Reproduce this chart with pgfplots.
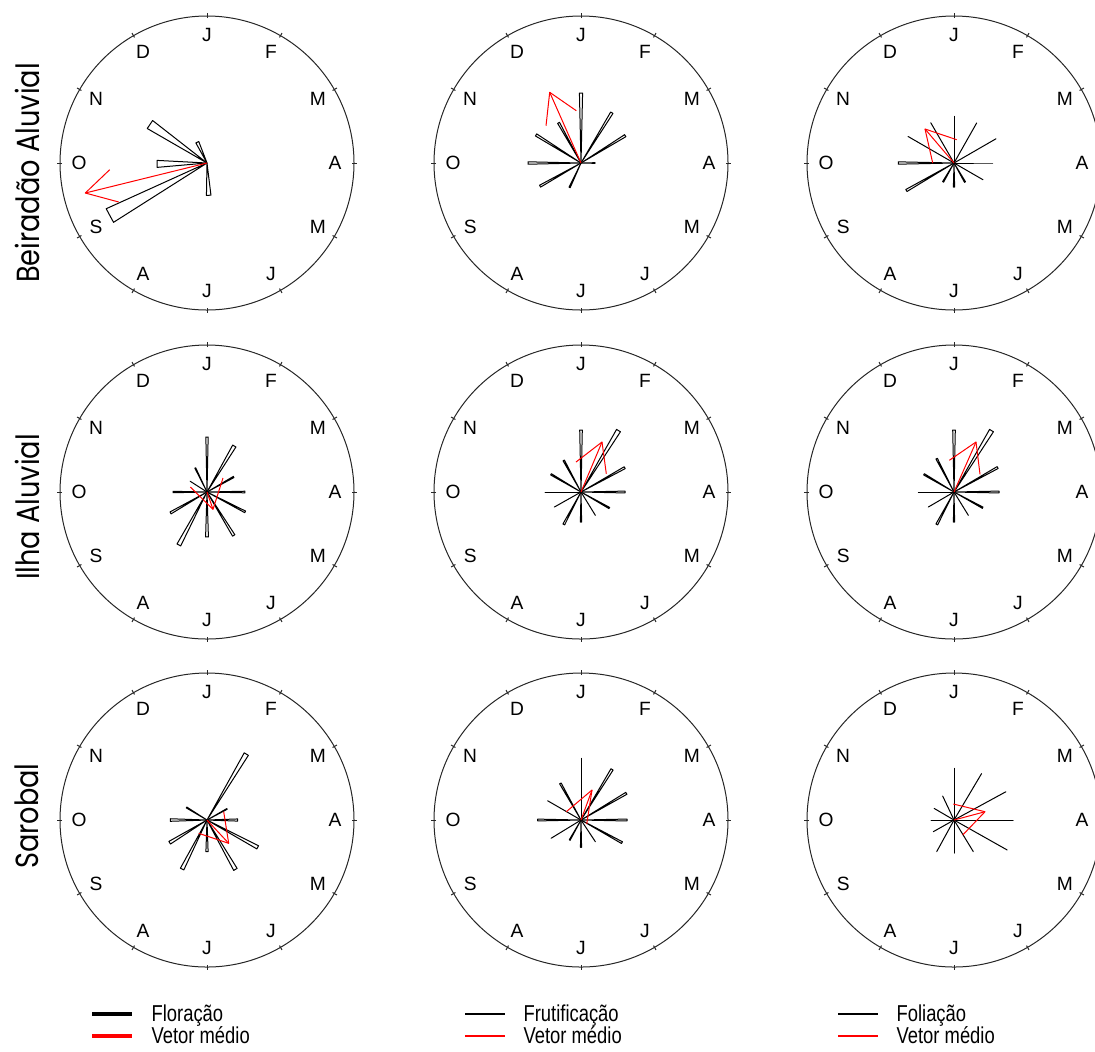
\documentclass[border=0pt]{standalone}
\usepackage{fontspec}
\setmainfont{Liberation Sans}
\newfontfamily\rowfont{Poppins}[FakeStretch=0.85]
\newfontfamily\legfont{Liberation Sans}[FakeStretch=0.8]
\usepackage{pgfplots}
\usepackage{pgfplotstable}
\pgfplotsset{compat=1.18}

% bars: a = month direction (degrees clockwise from top), r = length (px), w = half width (deg)
\pgfplotstableread{
a r w
304 69 4
335 23 4
269 50 4
241.6 110.7 4
177 32.4 4
}\tBAflor
\pgfplotstableread{
a r w
0 70 1.3
31.5 59 1.3
58.3 52 1.3
90 14 1.3
205 27 1.3
240.5 47 1.3
270 53 1.3
302 53 1.3
330.8 46 1.3
}\tBAfrut
\pgfplotstableread{
a r w
0 46.7 0
29.5 46 0
60 48.4 0
90 38.7 0
120 33.4 0
150 22 1.5
180 24 1.5
210 21.8 1.5
240 55 1.2
270 55.7 1.2
300 53 0
330 46.5 0
}\tBAfol
\pgfplotstableread{
a r w
0 55 1.2
30.7 53.5 2
60.6 30.6 1.2
90 38 1.2
117.5 43 1.2
148.4 51 1.5
180 45 1.8
208 60 2
240.2 42 1.5
270 34 1.2
302.6 20 0
334 26.7 1
}\tIAflor
\pgfplotstableread{
a r w
0 62 1.2
31.4 72 1.8
60.9 50 1.2
90 44 1.2
119.5 32.5 1.2
148.4 27.4 0
180 30 1.2
208 36.7 1.5
240.6 30.6 0
270 36 0
300.5 34.8 1.2
331.3 36 1.2
}\tIAfrut
\pgfplotstableread{
a r w
0 62 1.2
31.4 72 1.8
60.7 50 1.2
90 45 1.2
118.7 32.7 1.2
148.4 27.4 0
180 30 1.2
208 36.7 1.5
239.7 29.7 0
270 35.7 0
300.5 34.8 1.2
332.5 37.6 1.2
}\tIAfol
\pgfplotstableread{
a r w
30.8 76.8 1.8
61 22.8 1
90 30.7 2
118.3 57.6 1.8
150.1 57 2
180 31.7 2
206.9 55 2
238.7 43.7 2
270 36.7 2
301.5 24 1.2
}\tSflor
\pgfplotstableread{
a r w
0 61.7 0
31.5 59.4 1.2
59.5 52.6 1.2
90 46 1.2
118.9 46.8 1.2
146.5 26 0
180 27.3 1.2
209.5 23 1.2
238.6 35 0
270 43.3 1.2
300 38.5 0
330.6 42 1.2
}\tSfrut
\pgfplotstableread{
a r w
0 51.7 0
30.7 54 0
61.4 59 0
90 59 0
119.4 61 0
148.6 37 0
180 33 0
208.7 36 0
240.6 23.7 0
270 23 0
300.3 23 0
334.7 26.5 0
}\tSfol

\newcommand\roseBars[2]{%
  \pgfplotstablegetrowsof{#1}%
  \pgfmathtruncatemacro\nlast{\pgfplotsretval-1}%
  \pgfplotsforeachungrouped \rowidx in {0,...,\nlast}{%
    \pgfplotstablegetelem{\rowidx}{a}\of{#1}\let\A\pgfplotsretval
    \pgfplotstablegetelem{\rowidx}{r}\of{#1}\let\R\pgfplotsretval
    \pgfplotstablegetelem{\rowidx}{w}\of{#1}\let\W\pgfplotsretval
    \pgfmathsetmacro\xa{\R*sin(\A-\W)}%
    \pgfmathsetmacro\ya{\R*cos(\A-\W)}%
    \pgfmathsetmacro\xb{\R*sin(\A+\W)}%
    \pgfmathsetmacro\yb{\R*cos(\A+\W)}%
    \edef\temp{\noexpand\addplot[forget plot, draw=black, line width=#2, line join=round] coordinates {(0,0) (\xa,\ya) (\xb,\yb) (0,0)};}%
    \temp
  }%
}

\newcommand\monthframe{%
  \draw[black!85, line width=0.5pt] (axis cs:0,0) circle[radius=73.5pt];
  \pgfplotsinvokeforeach{0,30,...,330}{\draw[black!85, line width=0.5pt, shift={(axis cs:0,0)}] (##1:72.5pt) -- (##1:75pt);}
  \path[shift={(axis cs:0,0)}, every node/.style={font=\fontsize{9.6}{10}\selectfont, inner sep=0pt}]
    (90:64pt) node {J} (60:64pt) node {F} (30:64pt) node {M} (0:64pt) node {A}
    (-30:64pt) node {M} (-60:64pt) node {J} (-90:64pt) node {J} (-120:64pt) node {A}
    (-150:64pt) node {S} (180:64pt) node {O} (150:64pt) node {N} (120:64pt) node {D};
}

\pgfplotsset{
  rose/.style={hide axis, x=0.5pt, y=0.5pt, xmin=-147, xmax=147, ymin=-147, ymax=147,
    clip=false, anchor=center},
  arrowred/.style={forget plot, draw=red, line width=0.5pt, line join=round},
  rleg/.style={legend style={at={(axis cs:-117,-183)}, anchor=north west, draw=none, fill=none,
      inner sep=0pt, font=\legfont\fontsize{11.5}{11.5}\selectfont, row sep=-0.3pt,
      nodes={inner sep=0.6pt, anchor=west},
      /tikz/every odd column/.append style={column sep=8pt}},
    legend cell align=left,
    legend image code/.code={\draw[##1] (0pt,0pt) -- (20pt,0pt);}},
}

\begin{document}
\begin{tikzpicture}
\useasboundingbox (0,0) rectangle (547.5pt,-525.5pt);

% Row 1: Beiradao Aluvial
\begin{axis}[rose, at={(103.5pt,-81.5pt)}]
  \roseBars{\tBAflor}{0.5pt}
  \addplot[arrowred] coordinates {(0,0) (-121.7,-30)};
  \addplot[arrowred] coordinates {(-97.3,-6.7) (-121.7,-30) (-88.3,-39)};
  \monthframe
\end{axis}
\begin{axis}[rose, at={(290.5pt,-81.5pt)}]
  \roseBars{\tBAfrut}{0.5pt}
  \addplot[arrowred] coordinates {(0,0) (-31.3,70.7)};
  \addplot[arrowred] coordinates {(-4.7,52.3) (-31.3,70.7) (-35,37.3)};
  \monthframe
\end{axis}
\begin{axis}[rose, at={(477pt,-81.5pt)}]
  \roseBars{\tBAfol}{0.5pt}
  \addplot[arrowred] coordinates {(0,0) (-29,34)};
  \addplot[arrowred] coordinates {(2.7,23.3) (-29,34) (-21.3,0)};
  \monthframe
\end{axis}

% Row 2: Ilha Aluvial
\begin{axis}[rose, at={(103.5pt,-246pt)}]
  \roseBars{\tIAflor}{0.5pt}
  \addplot[arrowred] coordinates {(0,0) (6,-17.3)};
  \addplot[arrowred] coordinates {(-16.7,5) (6,-17.3) (16,14)};
  \monthframe
\end{axis}
\begin{axis}[rose, at={(290.5pt,-246pt)}]
  \roseBars{\tIAfrut}{0.5pt}
  \addplot[arrowred] coordinates {(0,0) (21,50)};
  \addplot[arrowred] coordinates {(-5,30) (21,50) (25.3,18.3)};
  \monthframe
\end{axis}
\begin{axis}[rose, at={(477pt,-246pt)}]
  \roseBars{\tIAfol}{0.5pt}
  \addplot[arrowred] coordinates {(0,0) (22,50)};
  \addplot[arrowred] coordinates {(-4.7,31.7) (22,50) (26,17.7)};
  \monthframe
\end{axis}

% Row 3: Sarobal
\begin{axis}[rose, rleg, at={(103.5pt,-410pt)}]
  \addlegendimage{black, line width=2pt}\addlegendentry{Floração}
  \addlegendimage{red, line width=2pt}\addlegendentry{Vetor médio}
  \roseBars{\tSflor}{0.5pt}
  \addplot[arrowred] coordinates {(0,0) (21.7,-23.3)};
  \addplot[arrowred] coordinates {(16.7,8.3) (21.7,-23.3) (-8.3,-13.3)};
  \monthframe
\end{axis}
\begin{axis}[rose, rleg, at={(290.5pt,-410pt)}]
  \addlegendimage{black, line width=1pt}\addlegendentry{Frutificação}
  \addlegendimage{red, line width=1pt}\addlegendentry{Vetor médio}
  \roseBars{\tSfrut}{0.5pt}
  \addplot[arrowred] coordinates {(0,0) (11,30)};
  \addplot[arrowred] coordinates {(-14.7,8.3) (11,30) (5.7,-4)};
  \monthframe
\end{axis}
\begin{axis}[rose, rleg, at={(477pt,-410pt)}]
  \addlegendimage{black, line width=1pt}\addlegendentry{Foliação}
  \addlegendimage{red, line width=1pt}\addlegendentry{Vetor médio}
  \roseBars{\tSfol}{0.5pt}
  \addplot[arrowred] coordinates {(0,0) (31,8.3)};
  \addplot[arrowred] coordinates {(-0.7,16) (31,8.3) (8.7,-15)};
  \monthframe
\end{axis}

% Row labels
\node[rotate=90, font=\rowfont\fontsize{16}{18}\selectfont] at (13.5pt,-86.5pt) {Beiradão Aluvial};
\node[rotate=90, font=\rowfont\fontsize{16}{18}\selectfont] at (13.5pt,-253.5pt) {Ilha Aluvial};
\node[rotate=90, font=\rowfont\fontsize{16}{18}\selectfont] at (13.5pt,-408pt) {Sarobal};
\end{tikzpicture}
\end{document}
